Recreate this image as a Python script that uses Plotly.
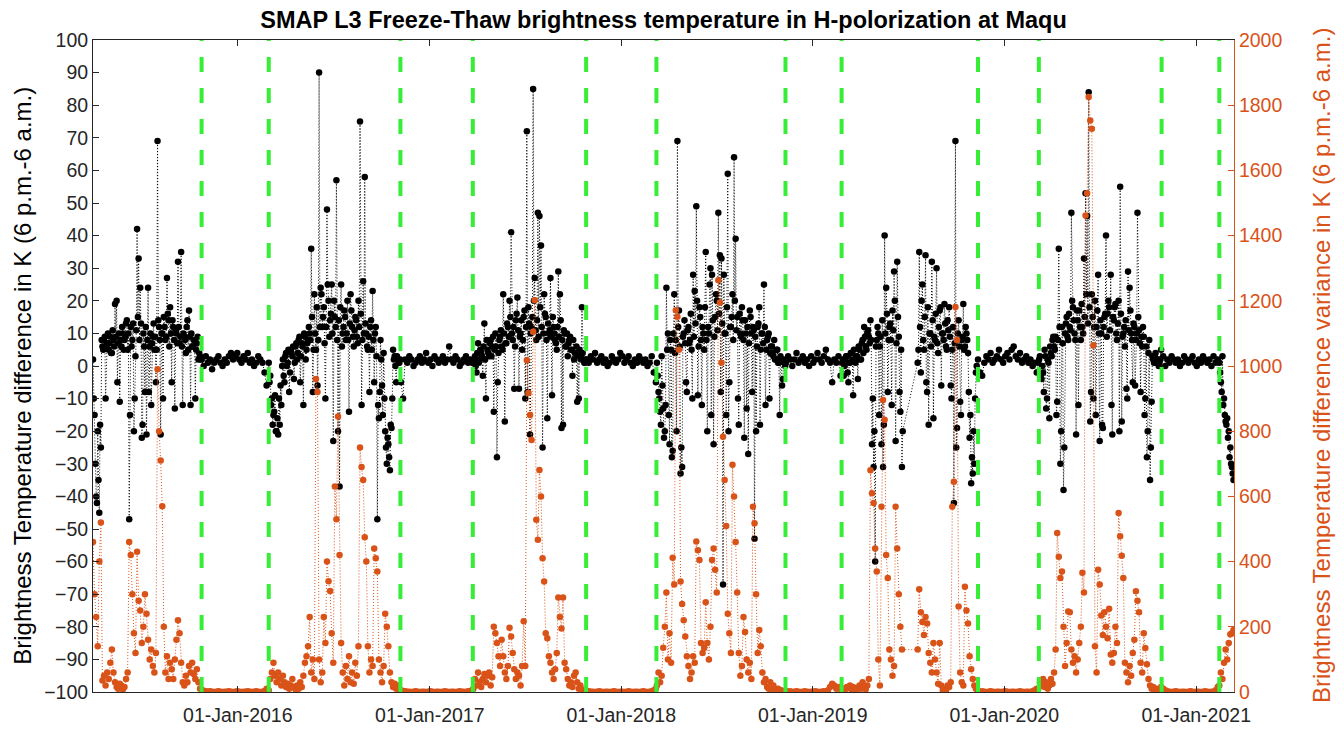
import pandas as pd
import plotly.graph_objects as go

# ---------------- data ----------------
# Each segment: start date, step in days, BT difference (K) and its variance (K^2).
# Thaw seasons also carry a second set of BT readings, offset half a step.
s1_start, s1_step = "2015-03-31", 3
s1_bt = [2, -15, -40, -20, -45, -25, 6, 8, -10, 7, 5, 9, 4, 8, 19, 20, 7, -11, 6, 10,
         8, 13, 5, -47, 12, 8, -20, 3, 42, 33, 24, -22, 10, -8, -21, 24, 6, -12, 9, 5,
         -5, 69, 12, -21, 10, 15, 8, 27, 14, 18, -5, 12, -13, 10, 32, 7, 35, -12, 9, 4,
         14, 17, -12, 6, 8, -10, 7, 2, 3]
s1_bt2 = [-10, -30, -42, -35, -18, 8, 5, 9, 6, 10, 7, 4, 11, 6, 9, -5, 10, 8, 12, 5,
          9, 14, 10, -15, 6, 13, -10, 11, 15, 8, 13, -18, 6, 12, 8, -8, 10, 7, 13, 9,
          5, 14, 8, 10, -10, 12, 9, 16, 6, 10, 14, 8, 11, 7, 12, 9, 6, 10, 8, 12,
          5, 9, 10, 6, 8, 5, 9, 4, 2]
s1_var = [460, 300, 230, 140, 400, 520, 35, 50, 20, 60, 40, 90, 130, 60, 30, 15, 10, 25, 20, 8,
          15, 40, 60, 460, 420, 300, 180, 120, 430, 280, 250, 150, 200, 300, 240, 160, 100, 130, 80, 60,
          120, 990, 800, 710, 570, 200, 60, 110, 40, 90, 70, 40, 100, 160, 220, 180, 90, 30, 20, 50,
          30, 80, 60, 90, 55, 40, 70, 30, 10]

w1_start, w1_step = "2015-10-24", 4
w1_bt = [2, 0, 3, 1, 2, -1, 1, 2, 3, 1, 0, 2, 1, 3, 4, 2, 3, 4, 2, 1, 3, 2, 4, 1, 2, 0, 1, 3, 2, 1, -2, -6]
w1_var = [8, 4, 2, 1, 2, 1, 0, 1, 2, 1, 0, 1, 1, 2, 1, 0, 1, 2, 1, 0, 1, 1, 2, 1, 0, 1, 2, 1, 0, 1, 3, 10]

s2_start, s2_step = "2016-02-29", 3
s2_bt = [1, -3, -10, -15, -9, -20, -21, -18, -12, 2, -5, 4, 1, -8, 5, 3, -4, 6, 2, 8,
         -5, 7, -12, 9, 5, 8, 10, 36, -8, 22, 5, -6, 90, 24, 12, 18, -10, 48, 20, 14,
         25, -23, 15, 57, -20, -37, 25, 10, 17, 8, 20, -14, 22, 12, 6, 15, 9, 20, 75, -12,
         26, 58, 10, 5, -8, 14, 23, -5, 12, -47, -16, 8, -6, 4, -20, -30, -24, -32, -19, 5,
         3, -5, 2, 1]
s2_bt2 = [-5, -12, -18, -14, -20, -16, -10, -6, 0, -3, 3, 0, 5, -2, 4, 6, 1, 7, 4, 9,
          3, 6, 10, 2, 7, 12, 8, 15, 5, 10, 18, 8, 12, 22, 15, 7, 12, 25, 9, 16,
          10, 20, 12, 8, 14, 18, 6, 12, 15, 10, 8, 13, 17, 9, 11, 14, 7, 12, 16, 8,
          10, 13, 6, 9, 12, 5, 8, 10, 3, -12, -8, 2, -15, -10, -25, -22, -28, -18, -10, 2,
          0, 3, 1, 2]
s2_var = [5, 40, 60, 90, 50, 30, 60, 40, 20, 50, 30, 15, 25, 10, 20, 40, 15, 8, 20, 10,
          30, 15, 50, 90, 110, 140, 230, 60, 100, 40, 960, 920, 100, 30, 60, 230, 150, 400, 340, 310,
          180, 90, 630, 530, 845, 420, 150, 60, 20, 80, 40, 110, 30, 60, 25, 90, 50, 140, 750, 690,
          650, 475, 400, 140, 60, 100, 80, 440, 410, 370, 100, 60, 30, 80, 240, 200, 140, 60, 30, 15,
          25, 10, 20, 5]

w2_start, w2_step = "2016-11-07", 4
w2_bt = [-5, -10, 2, 1, 3, 2, 0, 1, 2, 3, 1, 2, 4, 1, 2, 0, 3, 2, 1, 2,
         3, 1, 2, 6, 2, 1, 3, 2, 0, 1, 2, 3, 1, 2, 1]
w2_var = [5, 3, 2, 1, 1, 0, 1, 2, 1, 0, 1, 1, 0, 1, 2, 1, 0, 1, 1, 0,
          1, 2, 1, 0, 1, 1, 0, 1, 2, 1, 1, 0, 2, 3, 5]

s3_start, s3_step = "2017-03-25", 3
s3_bt = [1, 3, -2, 7, 2, 4, -3, 13, -10, 5, 3, 8, 6, -14, 10, -28, 4, 9, 6, 22,
         -17, 7, 12, 20, 41, 8, -7, 14, 21, -7, 10, 5, 15, -10, 72, 18, -21, 12, 85, 27,
         8, 47, 46, 37, -25, 22, 15, -16, 10, 27, -9, 12, 8, 5, 29, 22, -19, -18, 10, 6,
         3, 8, 5, -3, 2, 4, -11, -10, 3, 18, 2, 1]
s3_bt2 = [2, 0, 4, 1, 5, 3, 6, 2, 8, 4, 7, 3, 9, 5, 6, -5, 8, 11, 5, 10,
          7, 13, 9, 15, 10, 12, 6, 16, 11, 9, 14, 8, 17, 12, -8, 13, 10, 15, 20, 11,
          14, 9, 18, 12, 10, 16, 8, 13, 11, 9, 15, 10, 7, 12, 9, 14, 8, 11, 6, 10,
          7, 9, 5, 8, 4, 6, 3, 5, 2, 4, 1, 2]
s3_var = [10, 40, 20, 60, 30, 15, 40, 55, 30, 50, 60, 20, 45, 200, 180, 150, 110, 80, 160, 110,
          60, 40, 80, 197, 170, 120, 70, 40, 60, 50, 20, 80, 217, 80, 1018, 917, 850, 773, 1105, 1202,
          528, 467, 681, 600, 410, 339, 180, 165, 110, 90, 60, 40, 70, 120, 290, 230, 195, 290, 90, 70,
          40, 20, 30, 15, 50, 60, 30, 10, 20, 8, 5, 3]

w3_start, w3_step = "2017-10-27", 4
w3_bt = [2, 1, 3, 2, 4, 1, 2, 3, 1, 2, 0, 1, 3, 2, 1, 2, 4, 3, 1, 2,
         3, 1, 0, 2, 1, 3, 2, 1, 2, 0, 1, 3, -2, -5]
w3_var = [4, 2, 1, 1, 0, 1, 2, 1, 0, 1, 1, 0, 1, 2, 1, 0, 1, 1, 0, 1,
          2, 1, 0, 1, 1, 0, 1, 2, 1, 0, 1, 2, 5, 10]

s4_start, s4_step = "2018-03-10", 3
s4_bt = [1, -8, -14, 3, -13, -20, 24, 10, -24, 5, -26, 22, 8, 69, 17, -33, -31, 10, 7, -8,
         12, 8, 5, 28, 23, 49, -9, 18, 8, 12, 5, 35, -20, 10, 30, 28, -24, 15, 20, 47,
         34, 33, -67, 10, -15, 59, -5, 12, 22, 64, 39, 15, -18, 10, 18, 8, 14, -13, -27, 17,
         10, 12, -53, -20, 12, 18, 5, 10, 25, -12, 8, 10, 4, 6, 3, 2, 5, 1, -15, 2,
         -4, 1]
s4_bt2 = [-3, -10, -18, -6, -22, -12, 5, -15, 8, -28, 10, 4, -20, 12, 6, -25, 9, 14, -5, 11,
          7, 16, -10, 9, 13, 20, 6, 15, -12, 10, 18, 8, 12, 25, -15, 14, 9, 22, 11, 16,
          -8, 13, 28, 10, 18, -20, 12, 15, 8, 20, 11, -10, 16, 9, 14, -22, 10, 12, 7, 15,
          -8, 11, 9, 6, 13, -18, 10, 7, 12, 5, 9, -10, 6, 4, 8, 2, 5, 1, 3, -6,
          2, 0]
s4_var = [20, 60, 30, 50, 136, 200, 305, 100, 180, 90, 412, 330, 1171, 1151, 1050, 339, 270, 220, 170, 110,
          80, 40, 60, 110, 90, 462, 435, 405, 150, 120, 135, 275, 150, 100, 200, 405, 440, 375, 305, 1263,
          1195, 1010, 783, 650, 509, 240, 180, 120, 697, 600, 460, 305, 120, 50, 80, 230, 184, 100, 60, 90,
          40, 568, 518, 300, 120, 190, 140, 60, 30, 40, 15, 10, 30, 5, 20, 8, 3, 10, 2, 5,
          1, 0]

w4_start, w4_step = "2018-11-11", 4
w4_bt = [1, 3, 2, 0, 2, 4, 1, 2, 3, 1, 2, 0, 3, 1, 2, 4, 2, 1, 3, 5, 2, 1, -5, 2, 1, 3, -3]
w4_var = [3, 1, 2, 0, 1, 2, 1, 0, 1, 2, 1, 0, 1, 1, 2, 1, 0, 1, 2, 1, 5, 15, 25, 20, 10, 15, 8]

s5a_start, s5a_step = "2019-02-26", 3
s5a_bt = [1, -3, 2, 3, -5, 1, 4, -9, 2, 3, -4, 5, 2, 8, 12, 6, 10, 9, 14, -24,
          -31, -60, 8, 10, 6, -24, -31, 40, 24, -8, 12, 8, 17, 29, -23, 32, 9, -14, -31]
s5a_bt2 = [2, 0, 3, -2, 1, 4, 2, 5, 1, 3, 6, 2, 7, 4, 9, 5, 11, 7, 8, -10,
           -20, 6, 12, -15, 9, 14, -18, 10, 16, 8, 13, -12, 11, 20, 7, 15, -8, 5, -20]
s5a_var = [5, 10, 8, 15, 12, 20, 8, 15, 10, 5, 12, 20, 10, 30, 15, 8, 20, 40, 680, 610,
           580, 440, 370, 100, 20, 568, 896, 835, 420, 350, 130, 100, 50, 80, 568, 440, 300, 200, 130]

s5b_start, s5b_step = "2019-07-20", 3
s5b_bt = [1, 35, -2, 25, 5, 34, -8, -18, 10, 32, -16, 8, 30, 4, 17, -6, 10, 19, 6, 14,
          18, -6, 5, -42, 69, -19, 14, -11, 8, 19, 6, 10, 4, -22, -36, -33, -30, -2]
s5b_bt2 = [5, 12, 20, 8, 15, -5, 18, 10, 6, 14, 9, 16, 7, 12, 18, 10, 8, 13, 5, 11,
           9, -10, 12, 7, -25, 10, 6, -15, 9, 5, 12, 8, -8, -15, -28, -20, -10, 0]
s5b_var = [130, 315, 245, 215, 175, 230, 210, 120, 90, 60, 150, 100, 60, 25, 150, 20, 5, 10, 5, 20,
           15, 30, 568, 645, 1181, 1080, 262, 60, 30, 20, 323, 250, 210, 110, 70, 40, 20, 10]

w5_start, w5_step = "2019-11-12", 4
w5_bt = [2, -2, -3, 1, 3, 2, 4, 1, 2, 3, 5, 2, 1, 3, 4, 2, 5, 6, 3, 2,
         4, 1, 2, 3, 1, 2, 0, 1, -2]
w5_var = [3, 1, 2, 1, 0, 1, 2, 1, 0, 1, 1, 0, 1, 2, 1, 0, 1, 1, 0, 1,
          2, 1, 0, 1, 1, 0, 2, 5, 10]

s6_start, s6_step = "2020-03-06", 3
s6_bt = [1, 3, -4, -2, 5, -13, 2, -16, 4, 8, 6, 9, -11, 36, -30, 12, -38, 10, 15, 8,
         12, 47, 18, 10, -21, 14, 17, 8, 12, 33, 53, 46, 84, -17, 22, -10, 20, 12, 28, -23,
         10, -19, 15, 40, 16, 18, 28, -21, 14, 19, 8, 20, 55, -17, 10, 6, -7, 29, 24, 10,
         -5, 12, 8, 47, 11, -8, 6, 9, -10, -28, 4, -35, -11, 2, 3, 1, 2, 1]
s6_bt2 = [2, -3, 0, -8, 3, -10, 1, 6, 3, 9, 5, -15, 8, 12, -20, 7, -25, 13, 9, 16,
          11, 20, 14, 8, 17, -12, 12, 19, 10, 15, 22, 13, 18, -8, 15, 12, -15, 17, 10, 14,
          -18, 12, 16, 9, 20, 11, -12, 15, 18, 10, 13, -20, 16, 9, 12, 14, -10, 11, 17, 8,
          13, -6, 10, 15, 7, 9, 12, -15, 6, -20, 8, -25, 3, 1, 4, 2, 0, 2]
s6_var = [10, 30, 20, 40, 15, 30, 10, 20, 40, 25, 60, 130, 488, 415, 350, 370, 200, 80, 150, 247,
          245, 130, 90, 110, 60, 100, 150, 200, 366, 305, 1462, 1530, 1825, 1753, 1728, 1064, 140, 60, 375, 330,
          235, 175, 245, 200, 165, 255, 115, 90, 120, 200, 150, 549, 478, 418, 350, 90, 60, 30, 80, 50,
          120, 160, 309, 280, 245, 90, 60, 180, 135, 85, 40, 20, 10, 15, 5, 10, 3, 2]

w6_start, w6_step = "2020-10-26", 4
w6_bt = [5, 3, 0, 2, 1, 3, 2, 1, 2, 0, 1, 3, 2, 1, 2, 3, 1, 0, 2, 1,
         3, 2, 1, 2, 0, 3, 1, 2]
w6_var = [15, 10, 5, 2, 1, 0, 1, 2, 1, 0, 1, 1, 0, 1, 2, 1, 0, 1, 1, 0,
          1, 2, 1, 0, 1, 1, 5, 15]

s7_start, s7_step = "2021-02-14", 3
s7_bt = [1, -5, 3, -10, -17, -16, -20, -25, -31, -35]
s7_bt2 = [-2, -8, -12, -15, -18, -22, -28, -30, -33]
s7_var = [20, 60, 40, 90, 130, 100, 150, 177, 180, 190]

# freeze / thaw transition dates (green dashed lines)
ft_dates = ["2015-10-24", "2016-02-29", "2016-11-06", "2017-03-24", "2017-10-26", "2018-03-09",
            "2018-11-10", "2019-02-25", "2019-11-12", "2020-03-07", "2020-10-27", "2021-02-14"]

tick_dates = ["2016-01-01", "2017-01-01", "2018-01-01", "2019-01-01", "2020-01-01", "2021-01-01"]
tick_text = ["01-Jan-2016", "01-Jan-2017", "01-Jan-2018", "01-Jan-2019", "01-Jan-2020", "01-Jan-2021"]

segments = [
    (s1_start, s1_step, s1_bt, s1_bt2, s1_var), (w1_start, w1_step, w1_bt, [], w1_var),
    (s2_start, s2_step, s2_bt, s2_bt2, s2_var), (w2_start, w2_step, w2_bt, [], w2_var),
    (s3_start, s3_step, s3_bt, s3_bt2, s3_var), (w3_start, w3_step, w3_bt, [], w3_var),
    (s4_start, s4_step, s4_bt, s4_bt2, s4_var), (w4_start, w4_step, w4_bt, [], w4_var),
    (s5a_start, s5a_step, s5a_bt, s5a_bt2, s5a_var), (s5b_start, s5b_step, s5b_bt, s5b_bt2, s5b_var),
    (w5_start, w5_step, w5_bt, [], w5_var), (s6_start, s6_step, s6_bt, s6_bt2, s6_var),
    (w6_start, w6_step, w6_bt, [], w6_var), (s7_start, s7_step, s7_bt, s7_bt2, s7_var),
]

bt_pts, var_x, var_y = [], [], []
for start, step, bt, bt2, var in segments:
    t0 = pd.Timestamp(start)
    bt_pts += [(t0 + pd.Timedelta(days=step * i), v) for i, v in enumerate(bt)]
    bt_pts += [(t0 + pd.Timedelta(days=step * i + step / 2), v) for i, v in enumerate(bt2)]
    var_x += [t0 + pd.Timedelta(days=step * i) for i in range(len(var))]
    var_y += var
bt_pts.sort(key=lambda p: p[0])
bt_x = [p[0] for p in bt_pts]
bt_y = [p[1] for p in bt_pts]

ORANGE = "#D95319"
AXC = "#262626"
GREEN = "#36EE36"
FONT = "Liberation Sans, Arial, sans-serif"

# page has an 8px body margin: figure is sized so the plot box lands at x 93..1234, y 39.5..692.5
W, H = 1336, 722
ML, MR, MT, MB = 85, 110, 31.5, 37.5
PW = W - ML - MR

fig = go.Figure()
fig.add_trace(go.Scatter(
    x=bt_x, y=bt_y, mode="lines+markers",
    line=dict(color="black", width=1, dash="1px,2px"),
    marker=dict(color="black", size=6.5, symbol="circle"),
    yaxis="y", showlegend=False))
fig.add_trace(go.Scatter(
    x=var_x, y=var_y, mode="lines+markers",
    line=dict(color=ORANGE, width=1, dash="1px,2px"),
    marker=dict(color=ORANGE, size=6.5, symbol="circle"),
    yaxis="y2", showlegend=False))
for d in ft_dates:
    fig.add_trace(go.Scatter(
        x=[d, d], y=[0, 2000], mode="lines",
        line=dict(color=GREEN, width=4, dash="15px,16px"),
        yaxis="y2", showlegend=False, hoverinfo="skip"))

fig.update_layout(
    width=W, height=H,
    margin=dict(l=ML, r=MR, t=MT, b=MB, autoexpand=False),
    paper_bgcolor="white", plot_bgcolor="white",
    font=dict(family=FONT, size=19, color=AXC),
    title=dict(text="<b>SMAP L3 Freeze-Thaw brightness temperature in H-polorization at Maqu</b>",
               x=0.5, xref="paper", y=1 - 12 / H, yref="container", yanchor="middle",
               xanchor="center", font=dict(family=FONT, size=23.5, color="black")),
    xaxis=dict(type="date", range=["2015-03-31", "2021-03-14"],
               tickvals=tick_dates, ticktext=tick_text, automargin=False,
               ticks="inside", ticklen=6, tickcolor=AXC, showline=True, linecolor=AXC,
               linewidth=1, mirror="ticks", showgrid=False, zeroline=False,
               ticklabelstandoff=6,
               tickfont=dict(size=19.5, color=AXC)),
    yaxis=dict(range=[-100, 100], dtick=10, tick0=-100, ticks="inside", ticklen=6,
               tickcolor=AXC, showline=True, linecolor=AXC, linewidth=1, automargin=False,
               showgrid=False, zeroline=False, tickfont=dict(size=19.5, color=AXC)),
    yaxis2=dict(range=[0, 2000], dtick=200, tick0=0, overlaying="y", side="right",
                ticks="inside", ticklen=6, tickcolor=ORANGE, showline=True, automargin=False,
                linecolor=ORANGE, linewidth=1, showgrid=False, zeroline=False,
                tickfont=dict(size=19.5, color=ORANGE)),
    annotations=[
        dict(text="Brightness Temperature difference in K (6 p.m.-6 a.m.)", textangle=-90,
             xref="paper", yref="paper", x=(23 - 93) / PW, y=0.485, showarrow=False,
             xanchor="center", yanchor="middle", font=dict(family=FONT, size=24, color="black")),
        dict(text="Brightness Temperature difference variance in K (6 p.m.-6 a.m.)", textangle=-90,
             xref="paper", yref="paper", x=(1321 - 93) / PW, y=0.5, showarrow=False,
             xanchor="center", yanchor="middle", font=dict(family=FONT, size=24, color=ORANGE)),
    ],
)

fig.write_html("out.html")
